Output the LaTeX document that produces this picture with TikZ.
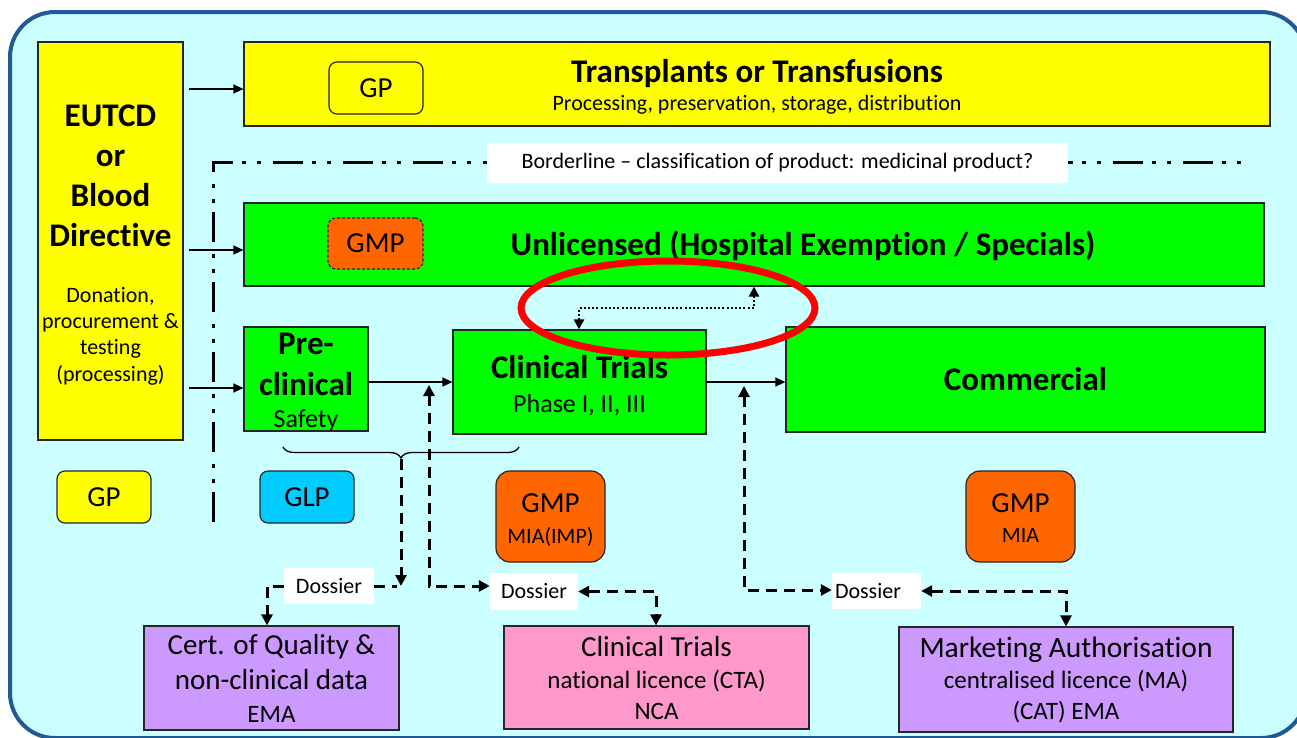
\documentclass[tikz,border=0pt]{standalone}
\usepackage{fontspec}
\setmainfont{Carlito}[Ligatures={TeX,NoCommon}]
\usetikzlibrary{arrows.meta,decorations.pathreplacing,calc}
\definecolor{bgc}{HTML}{CCFFFF}
\definecolor{framec}{HTML}{1F5A96}
\definecolor{ylw}{HTML}{FFFF00}
\definecolor{grn}{HTML}{00FF00}
\definecolor{orng}{HTML}{FF6600}
\definecolor{glpc}{HTML}{00CCFF}
\definecolor{purp}{HTML}{CC99FF}
\definecolor{pinkc}{HTML}{FF99CC}
\definecolor{redc}{HTML}{FF0000}
\newcommand\fsz[2]{\fontsize{#1}{#2}\selectfont}
\tikzset{dtip/.tip={Triangle[length=11pt,width=11pt]}}
\begin{document}
\begin{tikzpicture}[x=1pt,y=-1pt,
  box/.style={draw=black!85, line width=1.2pt, inner sep=0pt},
  rbox/.style={box, rounded corners=8pt},
  txt/.style={inner sep=0pt, anchor=base},
  big/.style={font=\fsz{33}{38}\bfseries},
  mid/.style={font=\fsz{29}{34}},
  sml/.style={font=\fsz{25}{30}},
  tny/.style={font=\fsz{22}{26}},
  arr/.style={line width=1.3pt, -{Triangle[length=10pt,width=9pt]}},
  dsh/.style={line width=3pt, dash pattern=on 11pt off 7pt},
  dotl/.style={line width=2.5pt, dash pattern=on 2pt off 2.2pt}
]
\useasboundingbox (0,0) rectangle (1297,737);
\clip (0,0) rectangle (1297,737);
\fill[white] (0,0) rectangle (1297,737);
\draw[framec, line width=4pt, fill=bgc, rounded corners=45pt] (10,12) rectangle (1306,738);

% borderline dash-dot-dot line
\draw[line width=3pt, dash pattern=on 30pt off 9pt on 4pt off 11pt on 4pt off 12pt] (213,522) -- (213,162) -- (1250,162);

% left column
\node[box, fill=ylw, minimum width=145pt, minimum height=398pt] (eutcd) at (110.5,241) {};
\node[txt, big] (e1) at (110.5,126) {EUTCD};
\node[txt, big] (e2) at (110.5,166) {or};
\node[txt, big] (e3) at (110.5,206) {Blood};
\node[txt, big] (e4) at (110.5,246) {Directive};
\node[txt, tny] (e5) at (110.5,302) {Donation,};
\node[txt, tny] (e6) at (110.5,328) {procurement \&};
\node[txt, tny] (e7) at (110.5,354.5) {testing};
\node[txt, tny] (e8) at (110.5,381) {(processing)};

% transplants
\node[box, fill=ylw, minimum width=1026pt, minimum height=84pt] (trans) at (757,84) {};
\node[txt, big] (t1) at (757,82) {Transplants or Transfusions};
\node[txt, tny] (t2) at (757,110) {Processing, preservation, storage, distribution};
\node[rbox, fill=ylw, minimum width=94pt, minimum height=52pt, mid] (gp1) at (376,88) {GP};

% borderline label
\node[fill=white, inner sep=0pt, minimum width=581pt, minimum height=40pt, tny] (bl) at (777.5,163) {Borderline -- classification of product: medicinal product?};

% unlicensed
\node[box, fill=grn, minimum width=1020pt, minimum height=83pt] (unl) at (754,244.5) {};
\node[txt, big] (u1) at (803,255) {Unlicensed (Hospital Exemption / Specials)};
\node[box, fill=orng, rounded corners=8pt, dash pattern=on 3pt off 2pt, minimum width=95pt, minimum height=51pt, mid] (gmp1) at (375.5,243.5) {GMP};

% pre-clinical, clinical trials, commercial
\node[box, fill=grn, minimum width=124pt, minimum height=104pt] (pre) at (306,379) {};
\node[txt, big] (p1) at (306,354) {Pre-};
\node[txt, big] (p2) at (306,395) {clinical};
\node[txt, font=\fsz{26}{30}] (p3) at (306,427) {Safety};
\node[box, fill=grn, minimum width=253pt, minimum height=104pt] (ct) at (579.5,382) {};
\node[txt, big] (c1) at (579.5,378) {Clinical Trials};
\node[txt, font=\fsz{26}{30}] (c2) at (579.5,412) {Phase I, II, III};
\node[box, fill=grn, minimum width=479pt, minimum height=105pt, big] (comm) at (1025.5,379.5) {Commercial};

% small standards boxes
\node[rbox, fill=ylw, minimum width=94pt, minimum height=52pt, mid] (gp2) at (104,497) {GP};
\node[rbox, fill=glpc, minimum width=94pt, minimum height=52pt, mid] (glp) at (307,497) {GLP};
\node[box, fill=orng, rounded corners=14pt, minimum width=109pt, minimum height=91pt] (gmp2) at (550.5,516.5) {};
\node[txt, mid] (g21) at (550.5,512) {GMP};
\node[txt, tny] (g22) at (550.5,543) {MIA(IMP)};
\node[box, fill=orng, rounded corners=14pt, minimum width=109pt, minimum height=91pt] (gmp3) at (1020.5,516.5) {};
\node[txt, mid] (g31) at (1020.5,512) {GMP};
\node[txt, tny] (g32) at (1020.5,542) {MIA};

% dossiers
\node[fill=white, inner sep=0pt, minimum width=90pt, minimum height=36pt, tny] (dos1) at (329,586) {Dossier};
\node[fill=white, inner sep=0pt, minimum width=88pt, minimum height=37pt, tny] (dos2) at (534,591.5) {Dossier};
\node[fill=white, inner sep=0pt, minimum width=89pt, minimum height=36pt, text width=83pt, align=left, tny] (dos3) at (876.5,591) {Dossier};

% bottom boxes
\node[box, fill=purp, minimum width=255pt, minimum height=104pt] (cert) at (271.5,678) {};
\node[txt, mid] (ce1) at (271.5,654) {Cert. of Quality \&};
\node[txt, mid] (ce2) at (271.5,689) {non-clinical data};
\node[txt, sml] (ce3) at (271.5,722) {EMA};
\node[box, fill=pinkc, minimum width=305pt, minimum height=103pt] (cta) at (656.5,677.5) {};
\node[txt, mid] (ca1) at (656.5,656) {Clinical Trials};
\node[txt, sml] (ca2) at (656.5,688) {national licence (CTA)};
\node[txt, sml] (ca3) at (656.5,719) {NCA};
\node[box, fill=purp, minimum width=334pt, minimum height=105pt] (ma) at (1066,679.5) {};
\node[txt, font=\fsz{29.5}{34}] (m1) at (1066,657) {Marketing Authorisation};
\node[txt, sml] (m2) at (1066,688) {centralised licence (MA)};
\node[txt, sml] (m3) at (1066,719) {(CAT) EMA};

% coordinates for connectors
\coordinate (a1) at (0,89);
\coordinate (a2) at (0,250);
\coordinate (a3) at (0,388);
\coordinate (d1) at (754,308);
\coordinate (d2) at (579,308);
\coordinate (bt) at (401,459);
\coordinate (q1) at (267,586);
\coordinate (v2) at (429,586);
\coordinate (v2t) at (429,385);
\coordinate (w2) at (656,591.5);
\coordinate (v3) at (744,590);
\coordinate (v3t) at (744,386);
\coordinate (w3) at (1066,591);

% solid arrows
\draw[arr] ([xshift=5pt]eutcd.east |- a1) -- (trans.west |- a1);
\draw[arr] ([xshift=5pt]eutcd.east |- a2) -- (unl.west |- a2);
\draw[arr] ([xshift=5pt]eutcd.east |- a3) -- (pre.west |- a3);
\draw[arr] (pre.east |- ct.west) -- (ct.west);
\draw[arr] (ct.east) -- (comm.west |- ct.east);

% dotted two-way link
\draw[dotl, {Triangle[length=10pt,width=10pt]}-{Triangle[length=10pt,width=10pt]}] (ct.north -| d2) -- (d2) -- (d1) -- (unl.south -| d1);

% brace
\draw[line width=1.3pt, decorate, decoration={brace, amplitude=11pt, mirror}] (283,447) -- (519,447);

% dashed connectors
\draw[dsh, -{dtip}] (bt) -- (bt |- dos1.east);
\draw[dsh] (dos1.east) -- ([xshift=-4pt]bt |- dos1.east);
\draw[dsh, -{dtip}] (dos1.west) -- (q1) -- (cert.north -| q1);
\draw[dsh, {dtip}-{dtip}] (v2t) -- (v2) -- (dos2.west |- v2);
\draw[dsh, {dtip}-{dtip}] (dos2.east) -- (w2) -- (cta.north -| w2);
\draw[dsh, {dtip}-{dtip}] (v3t) -- (v3) -- (dos3.west |- v3);
\draw[dsh, {dtip}-{dtip}] (dos3.east) -- (w3) -- (ma.north);

% red highlight ellipse
\draw[redc, line width=7pt] (668,308) ellipse [x radius=147pt, y radius=47pt];
\end{tikzpicture}
\end{document}
